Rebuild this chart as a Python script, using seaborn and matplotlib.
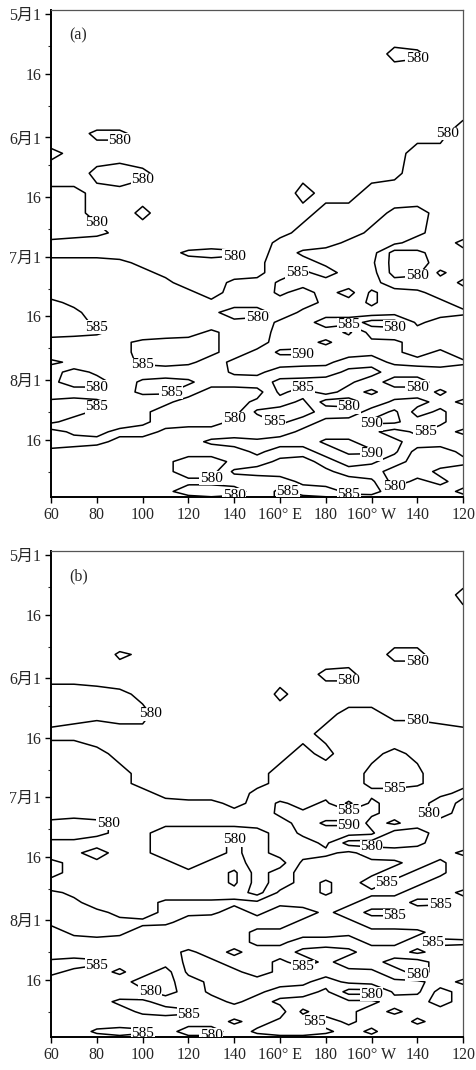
import numpy as np
import matplotlib.pyplot as plt
import seaborn as sns

# grid: longitude (deg, 180-240 = 180..120W) x day counted from May 1
lons = [60, 70, 80, 90, 100, 110, 120, 130, 140, 150, 160, 170, 180, 190, 200, 210, 220, 230, 240]
days = [0, 5, 10, 15, 20, 25, 30, 35, 40, 45, 50,
        55, 57.5, 60, 62.5, 65, 67.5, 70, 72.5, 75, 77.5, 80, 82.5, 85, 87.5, 90,
        92.5, 95, 97.5, 100, 102.5, 105, 107.5, 110, 112.5, 115, 117.5, 120, 122]

# 500 hPa height (dagpm), panel (a)
hgt_a = [
    [566, 566, 567, 567, 568, 568, 569, 569, 570, 570, 571, 571, 572, 572, 573, 573, 574, 574, 575],
    [567, 567, 568, 568, 569, 569, 570, 570, 571, 571, 572, 572, 573, 574, 575, 576, 576, 576, 576],
    [568, 568, 569, 569, 570, 570, 571, 571, 572, 572, 573, 573, 574, 575, 576, 582, 581, 577, 577],
    [570, 570, 571, 571, 572, 572, 572, 572, 573, 573, 574, 574, 575, 575, 576, 577, 577, 577, 578],
    [572, 572, 573, 573, 574, 574, 574, 574, 575, 575, 575, 576, 576, 576, 577, 577, 577, 578, 578],
    [574, 574, 575, 575, 575, 575, 575, 575, 576, 576, 576, 577, 577, 577, 577, 578, 578, 578, 579],
    [577, 578, 581, 581, 578, 576, 576, 576, 576, 577, 577, 577, 577, 578, 578, 578, 579, 579, 582],
    [581, 579, 578, 578, 577, 577, 576, 577, 577, 577, 578, 578, 578, 578, 579, 579, 581, 581, 581],
    [578, 578, 581, 582, 581, 578, 577, 577, 578, 578, 578, 579, 579, 579, 579, 579, 582, 582, 582],
    [581, 581, 579, 579, 578, 578, 579, 578, 578, 578, 578, 581, 579, 579, 581, 582, 583, 583, 582],
    [582, 581, 579, 578, 581, 578, 578, 578, 578, 578, 578, 579, 581, 581, 583, 586, 586, 584, 583],
    [582, 582, 581, 579, 578, 578, 578, 578, 578, 578, 579, 581, 582, 583, 586, 587, 586, 583, 582],
    [579, 578, 578, 578, 577, 577, 577, 577, 577, 578, 581, 582, 583, 586, 587, 586, 583, 582, 579],
    [579, 578, 578, 578, 578, 578, 581, 582, 581, 578, 582, 586, 587, 586, 587, 578, 579, 582, 581],
    [581, 582, 582, 581, 579, 578, 578, 578, 578, 579, 582, 583, 586, 587, 586, 578, 578, 582, 582],
    [582, 582, 582, 582, 581, 579, 578, 578, 578, 579, 582, 586, 583, 587, 587, 578, 579, 586, 582],
    [582, 583, 582, 582, 582, 581, 578, 578, 581, 581, 586, 587, 587, 588, 587, 582, 582, 583, 579],
    [583, 583, 582, 582, 582, 582, 581, 578, 582, 582, 586, 583, 587, 583, 591, 587, 586, 583, 582],
    [586, 584, 582, 582, 582, 582, 582, 581, 582, 582, 583, 583, 586, 587, 591, 587, 587, 586, 583],
    [587, 586, 583, 582, 582, 582, 582, 581, 578, 578, 582, 586, 587, 587, 588, 587, 587, 587, 586],
    [587, 587, 584, 583, 582, 582, 582, 582, 581, 582, 586, 587, 583, 583, 578, 578, 586, 583, 582],
    [587, 587, 586, 583, 582, 582, 583, 586, 583, 582, 587, 587, 587, 591, 583, 582, 583, 582, 582],
    [583, 582, 582, 584, 586, 587, 587, 586, 583, 583, 587, 588, 591, 587, 586, 586, 583, 582, 582],
    [582, 582, 582, 583, 587, 587, 587, 586, 583, 586, 591, 591, 587, 587, 586, 586, 583, 586, 582],
    [586, 584, 582, 583, 586, 587, 586, 583, 586, 587, 587, 587, 586, 583, 583, 586, 587, 587, 586],
    [582, 578, 581, 582, 582, 582, 582, 582, 586, 586, 583, 582, 583, 586, 587, 582, 582, 583, 582],
    [581, 578, 578, 582, 586, 587, 586, 582, 582, 583, 586, 587, 587, 586, 582, 578, 578, 582, 582],
    [582, 582, 582, 583, 586, 586, 582, 578, 578, 578, 586, 583, 587, 583, 586, 582, 582, 586, 582],
    [586, 587, 586, 583, 582, 581, 578, 578, 578, 581, 583, 586, 578, 578, 582, 586, 587, 583, 586],
    [587, 587, 584, 582, 581, 578, 577, 578, 578, 586, 587, 587, 583, 582, 587, 591, 583, 586, 582],
    [586, 583, 582, 582, 581, 578, 578, 578, 581, 582, 586, 583, 586, 587, 591, 591, 587, 586, 582],
    [578, 581, 581, 579, 578, 581, 582, 582, 582, 582, 583, 586, 587, 587, 586, 583, 586, 583, 586],
    [578, 578, 579, 581, 582, 582, 583, 586, 587, 586, 587, 587, 591, 591, 587, 586, 583, 582, 582],
    [581, 582, 582, 582, 582, 582, 582, 582, 583, 586, 583, 583, 587, 591, 591, 586, 578, 578, 581],
    [582, 582, 582, 582, 582, 581, 578, 578, 581, 583, 586, 587, 583, 587, 586, 582, 578, 578, 579],
    [582, 582, 583, 582, 582, 581, 578, 578, 586, 587, 587, 587, 586, 583, 582, 578, 578, 581, 582],
    [582, 582, 582, 582, 582, 582, 581, 581, 582, 582, 583, 586, 587, 587, 586, 578, 581, 579, 582],
    [582, 582, 582, 582, 582, 581, 578, 578, 578, 582, 586, 583, 583, 586, 587, 582, 582, 582, 579],
    [582, 582, 582, 582, 582, 582, 582, 581, 582, 582, 586, 587, 586, 583, 582, 582, 586, 582, 582],
]

# panel (b)
hgt_b = [
    [568, 568, 568, 569, 569, 569, 570, 570, 570, 571, 571, 572, 572, 573, 573, 574, 574, 575, 576],
    [569, 569, 570, 570, 570, 571, 571, 571, 572, 572, 573, 573, 574, 574, 575, 575, 576, 577, 578],
    [570, 570, 571, 571, 571, 572, 572, 572, 573, 573, 574, 574, 575, 575, 576, 576, 577, 578, 581],
    [571, 571, 572, 572, 573, 573, 573, 574, 574, 574, 575, 575, 576, 576, 577, 577, 578, 578, 579],
    [572, 573, 573, 574, 575, 575, 575, 575, 575, 576, 576, 576, 577, 577, 577, 578, 578, 579, 578],
    [574, 575, 576, 581, 579, 576, 576, 576, 576, 577, 577, 577, 577, 578, 578, 581, 581, 578, 578],
    [578, 578, 577, 577, 577, 577, 577, 577, 577, 577, 578, 578, 581, 581, 578, 578, 578, 579, 579],
    [582, 582, 582, 581, 579, 577, 576, 577, 577, 577, 581, 578, 578, 578, 578, 578, 578, 579, 579],
    [582, 581, 581, 581, 581, 578, 577, 577, 577, 578, 578, 578, 579, 581, 581, 579, 579, 579, 578],
    [579, 579, 578, 579, 579, 577, 577, 577, 578, 578, 578, 579, 581, 582, 582, 582, 582, 581, 581],
    [582, 582, 581, 579, 578, 577, 576, 577, 578, 578, 579, 581, 579, 582, 584, 586, 584, 583, 582],
    [583, 583, 582, 581, 579, 578, 577, 577, 578, 579, 581, 581, 582, 583, 586, 586, 586, 582, 581],
    [582, 582, 582, 581, 579, 578, 577, 577, 578, 579, 581, 582, 582, 583, 586, 587, 586, 582, 581],
    [582, 582, 583, 582, 581, 579, 578, 578, 578, 581, 581, 582, 583, 584, 584, 583, 582, 581, 579],
    [582, 582, 582, 582, 581, 581, 581, 581, 579, 581, 586, 583, 586, 579, 586, 583, 582, 578, 581],
    [582, 582, 582, 581, 581, 581, 581, 581, 581, 582, 586, 586, 587, 587, 586, 583, 582, 578, 582],
    [579, 578, 579, 581, 581, 581, 581, 581, 581, 582, 583, 587, 591, 591, 583, 586, 582, 582, 582],
    [578, 578, 579, 581, 581, 578, 578, 578, 578, 578, 582, 586, 587, 587, 586, 578, 578, 582, 582],
    [581, 581, 582, 582, 581, 578, 578, 578, 581, 578, 582, 583, 586, 578, 578, 578, 579, 582, 582],
    [582, 581, 578, 582, 581, 578, 578, 578, 581, 578, 582, 583, 584, 586, 583, 582, 582, 583, 586],
    [579, 581, 581, 582, 581, 581, 578, 581, 582, 578, 578, 586, 587, 587, 586, 586, 583, 586, 582],
    [579, 581, 582, 582, 582, 581, 581, 582, 586, 578, 582, 587, 587, 587, 586, 583, 586, 586, 582],
    [581, 582, 582, 582, 582, 582, 582, 582, 586, 578, 582, 587, 591, 587, 583, 586, 586, 583, 582],
    [586, 584, 582, 582, 582, 582, 582, 582, 583, 578, 586, 587, 591, 587, 586, 586, 583, 583, 586],
    [587, 586, 583, 582, 583, 586, 586, 586, 586, 586, 586, 587, 587, 586, 583, 583, 586, 586, 583],
    [587, 587, 586, 584, 583, 586, 586, 586, 583, 586, 583, 583, 586, 583, 586, 586, 583, 582, 582],
    [586, 587, 587, 586, 586, 586, 583, 582, 582, 583, 583, 586, 587, 586, 583, 583, 582, 582, 582],
    [583, 586, 587, 586, 583, 582, 582, 582, 583, 586, 586, 587, 587, 586, 586, 586, 586, 583, 582],
    [582, 583, 583, 583, 582, 582, 582, 582, 583, 586, 586, 583, 583, 583, 586, 586, 583, 586, 586],
    [582, 582, 582, 582, 582, 583, 586, 583, 586, 583, 583, 586, 587, 586, 583, 583, 586, 583, 582],
    [586, 587, 586, 583, 582, 582, 586, 586, 583, 583, 586, 583, 586, 583, 582, 578, 578, 582, 582],
    [586, 584, 583, 586, 582, 578, 586, 587, 586, 583, 586, 587, 587, 586, 586, 582, 578, 582, 582],
    [583, 582, 582, 582, 578, 578, 583, 586, 587, 587, 587, 586, 583, 586, 587, 586, 586, 583, 586],
    [582, 582, 582, 582, 581, 578, 582, 586, 587, 586, 583, 583, 586, 578, 578, 586, 586, 578, 582],
    [582, 582, 583, 586, 586, 583, 582, 583, 586, 583, 586, 587, 587, 586, 586, 583, 582, 578, 582],
    [582, 582, 582, 583, 586, 587, 586, 583, 582, 583, 583, 591, 587, 586, 583, 586, 583, 582, 582],
    [582, 582, 582, 582, 582, 582, 582, 582, 586, 583, 586, 587, 583, 586, 583, 582, 586, 583, 582],
    [582, 582, 586, 587, 586, 582, 578, 578, 582, 586, 587, 587, 586, 583, 586, 582, 582, 582, 582],
    [582, 582, 582, 583, 582, 582, 582, 582, 582, 582, 583, 583, 582, 582, 583, 582, 582, 582, 582],
]

levels = [580, 585, 590]
xticks = [60, 80, 100, 120, 140, 160, 180, 200, 220, 240]
xlabels = ['60', '80', '100', '120', '140', '160° E', '180', '160° W', '140', '120']
yticks = [0, 15, 31, 46, 61, 76, 92, 107]
ylabels = ['5月1', '16', '6月1', '16', '7月1', '16', '8月1', '16']
yminor = [8, 23, 38, 54, 69, 84, 100, 115]

sns.set_style('ticks')
plt.rcParams['font.family'] = ['Liberation Serif', 'Noto Sans CJK SC']

fig = plt.figure(figsize=(4.77, 10.7), dpi=100)
panels = [([0.107, 0.5355, 0.864, 0.455], hgt_a, '(a)'),
          ([0.107, 0.0308, 0.864, 0.454], hgt_b, '(b)')]

for rect, hgt, tag in panels:
    ax = fig.add_axes(rect)
    cs = ax.contour(lons, days, np.array(hgt), levels=levels, colors='k', linewidths=1.1)
    lbls = ax.clabel(cs, fmt='%d', fontsize=11, inline=False)
    for t in lbls:
        t.set_rotation(0)
        t.set_bbox(dict(facecolor='white', edgecolor='none', pad=0.3))
    ax.set_xlim(60, 240)
    ax.set_ylim(121.4, -1)
    ax.set_xticks(xticks)
    ax.set_xticklabels(xlabels, fontsize=11.5)
    ax.set_yticks(yticks)
    ax.set_yticklabels(ylabels, fontsize=11.5)
    ax.set_yticks(yminor, minor=True)
    ax.tick_params(direction='out', length=4, width=1, color='k', pad=3)
    ax.tick_params(which='minor', length=2, width=0.8)
    for s in ['left', 'bottom']:
        ax.spines[s].set_color('k')
        ax.spines[s].set_linewidth(1.4)
    for s in ['top', 'right']:
        ax.spines[s].set_color('#555555')
        ax.spines[s].set_linewidth(0.9)
    ax.text(0.045, 0.94, tag, transform=ax.transAxes, fontsize=11.5)

fig.savefig('out.png', dpi=100)
